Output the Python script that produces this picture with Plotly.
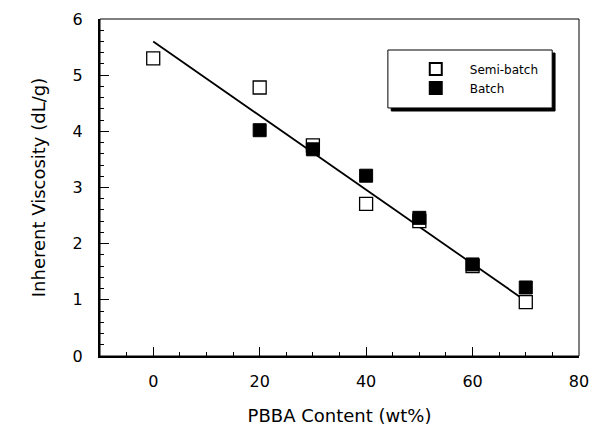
import plotly.graph_objects as go

semi_x = [0, 20, 30, 40, 50, 60, 70]
semi_y = [5.30, 4.78, 3.75, 2.71, 2.40, 1.60, 0.96]
batch_x = [20, 30, 40, 50, 60, 70]
batch_y = [4.02, 3.68, 3.21, 2.46, 1.63, 1.22]
fit_x = [0, 70]
fit_y = [5.60, 0.98]

FONT = "DejaVu Sans"

fig = go.Figure()
fig.add_trace(go.Scatter(x=fit_x, y=fit_y, mode="lines", line=dict(color="black", width=1.8),
                         showlegend=False, hoverinfo="skip"))
fig.add_trace(go.Scatter(x=semi_x, y=semi_y, mode="markers", name="Semi-batch",
                         marker=dict(symbol="square", size=13, color="white",
                                     line=dict(color="black", width=1.3))))
fig.add_trace(go.Scatter(x=batch_x, y=batch_y, mode="markers", name="Batch",
                         marker=dict(symbol="square", size=13, color="black",
                                     line=dict(color="black", width=1))))

axis_common = dict(showgrid=False, zeroline=False, showline=True, linecolor="black",
                   linewidth=2, ticks="inside", tickcolor="black", tickwidth=1.3,
                   automargin=False,
                   tickfont=dict(family=FONT, size=16, color="black"))

fig.update_xaxes(range=[-10, 80], dtick=20, tick0=0, ticklen=9, ticklabelstandoff=10,
                 minor=dict(dtick=5, ticklen=4, ticks="inside", tickcolor="black"),
                 title=dict(text="PBBA Content (wt%)", font=dict(family=FONT, size=18, color="black"),
                            standoff=19),
                 **axis_common)
fig.update_yaxes(range=[0, 6], dtick=1, tick0=0, ticklen=9, ticklabelstandoff=12,
                 minor=dict(dtick=0.2, ticklen=4, ticks="inside", tickcolor="black"),
                 title=dict(text="Inherent Viscosity (dL/g)", font=dict(family=FONT, size=18, color="black"),
                            standoff=22),
                 **axis_common)

# thin frame (top/right) and legend box with shadow
fig.add_shape(type="rect", xref="paper", yref="paper", x0=0, x1=1, y0=0, y1=1,
              line=dict(color="black", width=1), layer="below")
fig.add_shape(type="rect", xref="paper", yref="paper", x0=0.608, x1=0.950, y0=0.727, y1=0.899,
              line=dict(color="black", width=1), fillcolor="black", layer="above")
fig.add_shape(type="rect", xref="paper", yref="paper", x0=0.601, x1=0.944, y0=0.736, y1=0.908,
              line=dict(color="black", width=1), fillcolor="white", layer="above")

fig.update_layout(
    width=592, height=433,
    margin=dict(l=100, r=13, t=19, b=77),
    paper_bgcolor="white", plot_bgcolor="white",
    showlegend=True,
    legend=dict(x=0.630, y=0.895, xanchor="left", yanchor="top",
                bgcolor="rgba(0,0,0,0)", borderwidth=0, itemwidth=58,
                font=dict(family=FONT, size=12, color="black"),
                tracegroupgap=0, itemsizing="constant"),
)

fig.write_html("out.html")
